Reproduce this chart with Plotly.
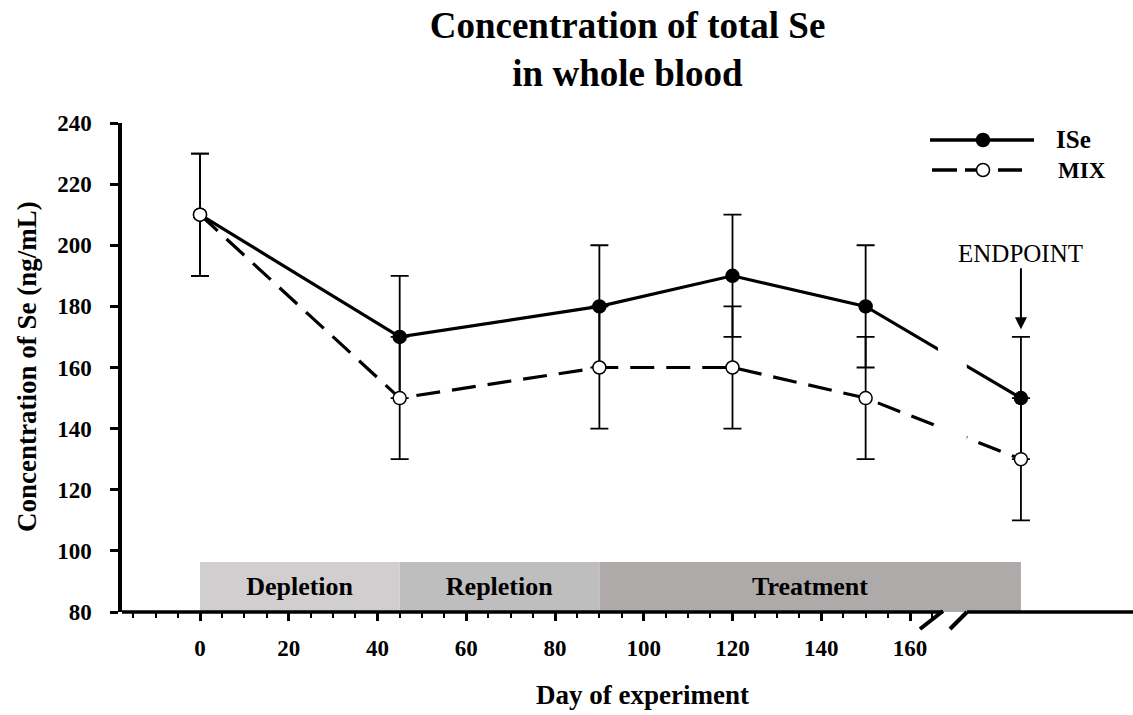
import plotly.graph_objects as go

# data
days = [0, 45, 90, 120, 150, 185]
ise_mean = [210, 170, 180, 190, 180, 150]
ise_sd = [20, 20, 20, 20, 20, 20]
mix_mean = [210, 150, 160, 160, 150, 130]
mix_sd = [20, 20, 20, 20, 20, 20]

phase_names = ["Depletion", "Repletion", "Treatment"]
phase_start = [0, 45, 90]
phase_end = [45, 90, 185]
phase_colors = ["#d0cece", "#bebebe", "#aeaaaa"]
phase_base = 80
phase_height = 16.4

x_major = [0, 20, 40, 60, 80, 100, 120, 140, 160]
x_minor = [v for v in range(-15, 170, 5) if v % 20 != 0]
y_ticks = [80, 100, 120, 140, 160, 180, 200, 220, 240]

FONT = "Liberation Serif, Times New Roman, serif"

# plot area in pixels and x scale (day 0 at px 200, 4.4375 px per day)
L, T, W, H = 122, 123, 1011, 489
X0_PX, PX_PER_DAY = 200, 4.4375
x_range = [(L - X0_PX) / PX_PER_DAY, (L + W - X0_PX) / PX_PER_DAY]


def px_x(px):
    return (px - L) / W


def px_y(py):
    return (T + H - py) / H


def px_day(px):
    return (px - X0_PX) / PX_PER_DAY


fig = go.Figure()

# experiment phases
fig.add_trace(go.Bar(
    x=[(s + e) / 2 for s, e in zip(phase_start, phase_end)],
    y=[phase_height] * len(phase_names),
    base=phase_base,
    width=[e - s for s, e in zip(phase_start, phase_end)],
    marker=dict(color=phase_colors, line_width=0),
    text=phase_names,
    textposition="inside",
    insidetextanchor="middle",
    textangle=0,
    textfont=dict(family=FONT, size=26, color="black", weight="bold"),
    hoverinfo="skip",
    showlegend=False,
))

fig.add_trace(go.Scatter(
    x=days, y=ise_mean, name="ISe", mode="lines+markers",
    line=dict(color="black", width=3.2),
    marker=dict(symbol="circle", size=13, color="black",
                line=dict(color="black", width=1.5)),
    error_y=dict(type="data", array=ise_sd, color="black", thickness=1.8, width=9),
    showlegend=False,
))

fig.add_trace(go.Scatter(
    x=days, y=mix_mean, name="MIX", mode="lines+markers",
    line=dict(color="black", width=3.2, dash="24px,12px"),
    marker=dict(symbol="circle", size=13, color="white",
                line=dict(color="black", width=1.5)),
    error_y=dict(type="data", array=mix_sd, color="black", thickness=1.8, width=9),
    showlegend=False,
))

shapes = []
# break in the lines
shapes.append(dict(type="rect", xref="x", yref="y", x0=166.3, x1=172.8, y0=100, y1=215,
                   fillcolor="white", line_width=0, layer="above"))
# x axis line with break
gap_l, gap_r = px_day(943), px_day(967)
for a, b in [(x_range[0], gap_l), (gap_r, x_range[1])]:
    shapes.append(dict(type="line", xref="x", yref="paper", x0=a, x1=b, y0=0, y1=0,
                       line=dict(color="black", width=3.5)))
for (xa, ya), (xb, yb) in [((920, 629), (943, 611)), ((950, 629), (967, 612))]:
    shapes.append(dict(type="line", xref="x", yref="paper",
                       x0=px_day(xa), y0=px_y(ya), x1=px_day(xb), y1=px_y(yb),
                       line=dict(color="black", width=4)))

# legend drawn by hand
shapes.append(dict(type="line", xref="paper", yref="paper", x0=px_x(930), x1=px_x(1034),
                   y0=px_y(140), y1=px_y(140), line=dict(color="black", width=3.5)))
for a, b in [(932, 957), (965, 977), (998, 1022)]:
    shapes.append(dict(type="line", xref="paper", yref="paper", x0=px_x(a), x1=px_x(b),
                       y0=px_y(170), y1=px_y(170), line=dict(color="black", width=3.5)))
for py, fill in [(140, "black"), (170, "white")]:
    shapes.append(dict(type="circle", xref="paper", yref="paper",
                       xsizemode="pixel", ysizemode="pixel",
                       xanchor=px_x(983), yanchor=px_y(py),
                       x0=-6.5, x1=6.5, y0=-6.5, y1=6.5,
                       fillcolor=fill, line=dict(color="black", width=1.5)))

annotations = [
    dict(text="ISe", xref="paper", yref="paper", x=px_x(1054), y=px_y(140),
         xanchor="left", yanchor="middle", showarrow=False,
         font=dict(family=FONT, size=25, color="black", weight="bold")),
    dict(text="MIX", xref="paper", yref="paper", x=px_x(1056), y=px_y(170),
         xanchor="left", yanchor="middle", showarrow=False,
         font=dict(family=FONT, size=23, color="black", weight="bold")),
    dict(text="ENDPOINT", x=days[-1], y=172.5, xref="x", yref="y",
         showarrow=True, ax=0, ay=-76, arrowhead=2, arrowsize=1.2, arrowwidth=2,
         arrowcolor="black", standoff=0,
         font=dict(family=FONT, size=25, color="black")),
    dict(text="Day of experiment", xref="paper", yref="paper", x=px_x(642), y=px_y(695),
         xanchor="center", yanchor="middle", showarrow=False,
         font=dict(family=FONT, size=27, color="black", weight="bold")),
    dict(text="Concentration of Se (ng/mL)", xref="paper", yref="paper",
         x=px_x(27), y=px_y(367), textangle=-90,
         xanchor="center", yanchor="middle", showarrow=False,
         font=dict(family=FONT, size=27, color="black", weight="bold")),
]

fig.update_layout(
    width=1133, height=715,
    margin=dict(l=L, r=1133 - L - W, t=T, b=715 - T - H),
    paper_bgcolor="white", plot_bgcolor="white",
    title=dict(text="Concentration of total Se<br>in whole blood",
               x=0.5, xref="paper", xanchor="center",
               y=1 - 38 / 715, yref="container", yanchor="top",
               font=dict(family=FONT, size=37, color="black", weight="bold")),
    shapes=shapes,
    annotations=annotations,
    xaxis=dict(
        range=x_range, showgrid=False, zeroline=False, showline=False,
        tickmode="array", tickvals=x_major, ticks="outside",
        ticklen=8, tickwidth=2.5, tickcolor="black",
        ticklabelstandoff=7,
        minor=dict(tickmode="array", tickvals=x_minor, ticks="outside",
                   ticklen=5, tickwidth=1.5, tickcolor="black"),
        tickfont=dict(family=FONT, size=23, color="black", weight="bold"),
    ),
    yaxis=dict(
        range=[80, 240], showgrid=False, zeroline=False,
        showline=True, linewidth=3.5, linecolor="black",
        tickmode="array", tickvals=y_ticks, ticks="outside",
        ticklen=8, tickwidth=2.5, tickcolor="black",
        ticklabelstandoff=14,
        tickfont=dict(family=FONT, size=23, color="black", weight="bold"),
    ),
    hovermode=False,
)

# drop the default page margin so the figure sits at the window corner
fig.write_html("out.html",
               config={"displayModeBar": False},
               post_script="document.body.style.margin='0';document.body.style.overflow='hidden';")
